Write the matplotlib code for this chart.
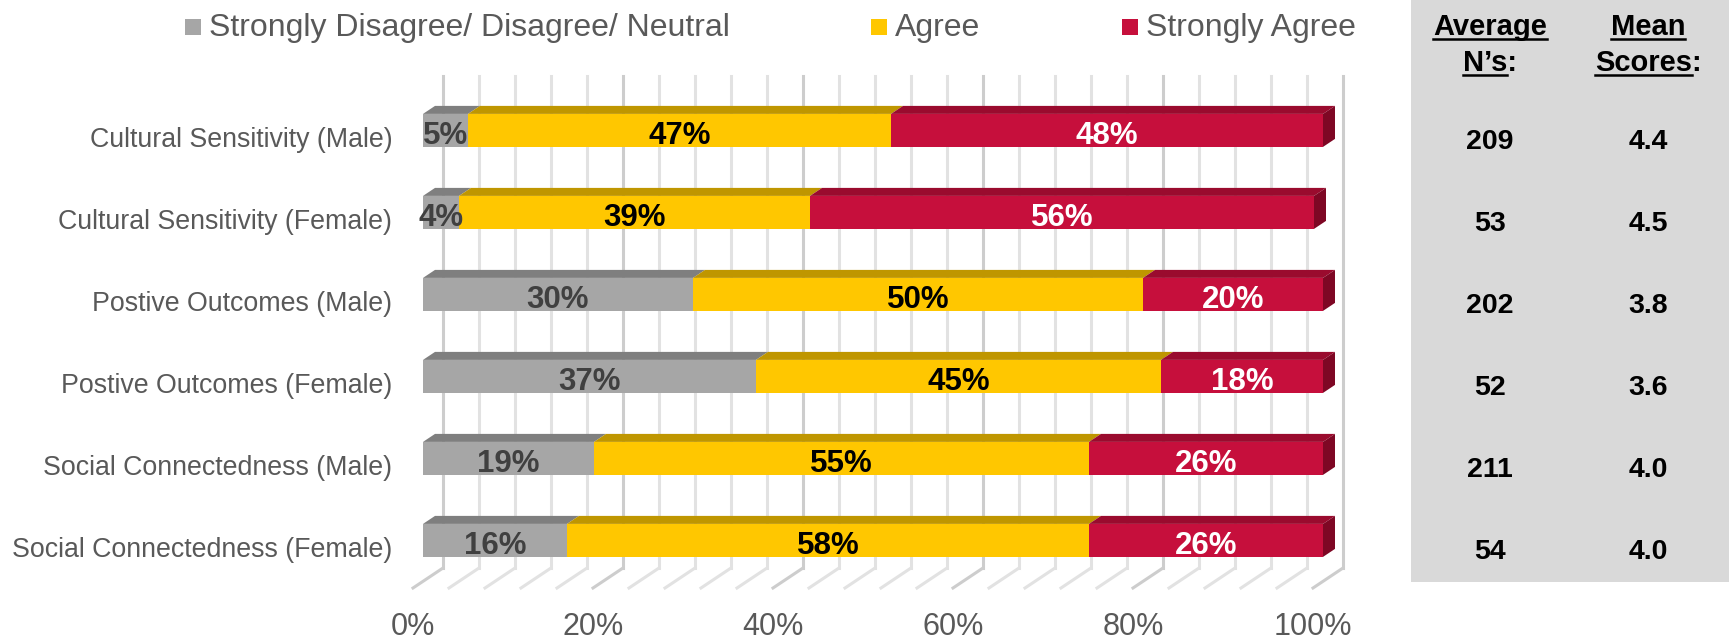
import matplotlib
matplotlib.use("Agg")
import matplotlib.pyplot as plt
import matplotlib.transforms as mtransforms
from matplotlib.patches import Polygon, Rectangle
from matplotlib.lines import Line2D

# ---- data -------------------------------------------------------------
categories = [
    "Cultural Sensitivity (Male)",
    "Cultural Sensitivity (Female)",
    "Postive Outcomes (Male)",
    "Postive Outcomes (Female)",
    "Social Connectedness (Male)",
    "Social Connectedness (Female)",
]
series_names = ["Strongly Disagree/ Disagree/ Neutral", "Agree", "Strongly Agree"]
disagree_neutral = [5, 4, 30, 37, 19, 16]
agree = [47, 39, 50, 45, 55, 58]
strongly_agree = [48, 56, 20, 18, 26, 26]
average_n = [209, 53, 202, 52, 211, 54]
mean_scores = [4.4, 4.5, 3.8, 3.6, 4.0, 4.0]
x_ticks = [0, 20, 40, 60, 80, 100]
x_tick_labels = ["0%", "20%", "40%", "60%", "80%", "100%"]

# ---- styling ----------------------------------------------------------
plt.rcParams["font.family"] = ["Liberation Sans", "DejaVu Sans"]
front_colors = ["#A6A6A6", "#FFC700", "#C60F3C"]
top_colors = ["#7F7F7F", "#BF9600", "#9A0B2E"]
side_color = "#7E0724"
label_colors = ["#404040", "#000000", "#FFFFFF"]
text_grey = "#595959"

W, H = 1729, 641
fig = plt.figure(figsize=(W / 100, H / 100), dpi=100)
ax = fig.add_axes([413 / W, 53 / H, 900 / W, 492 / H])
n_rows = len(categories)
ax.set_xlim(0, 100)
ax.set_ylim(0, n_rows)
for s in ax.spines.values():
    s.set_visible(False)

# pixel -> data scale for the pseudo-3D depth offsets
px_x = 900 / 100.0
px_y = 492 / n_rows


def depth(dx_px, dy_px):
    return dx_px / px_x, dy_px / px_y


wall_dx, wall_dy = depth(30, 20)      # floor front edge -> back wall
bar_fx, bar_fy = depth(10, 6.6)       # floor front edge -> bar front face
bar_dx, bar_dy = depth(12, 8)         # bar thickness

# ---- back wall and floor gridlines ------------------------------------
for v in range(0, 101, 4):
    major = v % 20 == 0
    col = "#CDCDCD" if major else "#E2E2E2"
    ax.add_line(Line2D([v + wall_dx, v + wall_dx], [wall_dy, n_rows + wall_dy],
                       color=col, lw=2.2, zorder=1, clip_on=False))
    ax.add_line(Line2D([v, v + wall_dx], [0, wall_dy],
                       color=col, lw=2.2, zorder=1, clip_on=False))

# ---- stacked 3D bars --------------------------------------------------
series = [disagree_neutral, agree, strongly_agree]
bar_h = 33 / px_y
label_drop = 2.5 / px_y
for i in range(n_rows):
    yc = n_rows - 0.5 - i
    left = 0.0
    for k, vals in enumerate(series):
        v = vals[i]
        right = left + v
        x0, x1 = left + bar_fx, right + bar_fx
        y0, y1 = yc - bar_h / 2 + bar_fy, yc + bar_h / 2 + bar_fy
        ax.add_patch(Rectangle((x0, y0), v, bar_h, facecolor=front_colors[k],
                               edgecolor="none", zorder=3, clip_on=False))
        ax.add_patch(Polygon([(x0, y1), (x1, y1), (x1 + bar_dx, y1 + bar_dy),
                              (x0 + bar_dx, y1 + bar_dy)], closed=True,
                             facecolor=top_colors[k], edgecolor="none",
                             zorder=3, clip_on=False))
        if k == len(series) - 1:
            ax.add_patch(Polygon([(x1, y0), (x1 + bar_dx, y0 + bar_dy),
                                  (x1 + bar_dx, y1 + bar_dy), (x1, y1)],
                                 closed=True, facecolor=side_color,
                                 edgecolor="none", zorder=3, clip_on=False))
        ax.text((x0 + x1) / 2, yc + bar_fy - label_drop, f"{v}%", ha="center",
                va="center_baseline", fontsize=22.5, fontweight="bold",
                color=label_colors[k], zorder=5, clip_on=False)
        left = right

# ---- axes labels ------------------------------------------------------
ax.set_yticks([n_rows - 0.5 - i for i in range(n_rows)])
ax.set_yticklabels(categories, fontsize=19.3, color=text_grey)
ax.tick_params(axis="y", length=0, pad=15)
ax.set_xticks(x_ticks)
ax.set_xticklabels(x_tick_labels, fontsize=22, color=text_grey)
ax.tick_params(axis="x", length=0, pad=17)

# ---- legend -----------------------------------------------------------
legend_x = [185, 871, 1122]
for name, col, lx in zip(series_names, front_colors, legend_x):
    fig.add_artist(Rectangle((lx / W, 1 - 35 / H), 16 / W, 16 / H,
                             transform=fig.transFigure, facecolor=col,
                             edgecolor="none"))
    fig.text((lx + 24) / W, 1 - 36 / H, name, fontsize=23, color=text_grey,
             ha="left", va="baseline")

# ---- side panel with counts and means ----------------------------------
fig.add_artist(Rectangle((1411 / W, 1 - 582 / H), (W - 1411) / W, 582 / H,
                         transform=fig.transFigure, facecolor="#D9D9D9",
                         edgecolor="none", zorder=0))

col_x = [1490, 1648]
headers = [("Average", "N\u2019s", ":"), ("Mean", "Scores", ":")]
fig.canvas.draw()
renderer = fig.canvas.get_renderer()
for cx, (line1, line2, tail) in zip(col_x, headers):
    t1 = fig.text(cx / W, 1 - 35 / H, line1, fontsize=21, fontweight="bold",
                  ha="center", va="baseline")
    t2 = fig.text(cx / W, 1 - 71 / H, line2 + tail, fontsize=21,
                  fontweight="bold", ha="center", va="baseline")
    probe = fig.text(0, 0, line2, fontsize=21, fontweight="bold")
    b1 = t1.get_window_extent(renderer)
    b2 = t2.get_window_extent(renderer)
    w_part = probe.get_window_extent(renderer).width
    probe.remove()
    for x0, x1, yb in [(b1.x0, b1.x1, 35), (b2.x0, b2.x0 + w_part, 71)]:
        yy = (H - yb - 4) / H
        fig.add_artist(Line2D([x0 / W, x1 / W], [yy, yy], color="black",
                              lw=1.8, transform=fig.transFigure))

blend = mtransforms.blended_transform_factory(fig.transFigure, ax.transData)
value_drop = 2 / px_y
for i in range(n_rows):
    yc = n_rows - 0.5 - i - value_drop
    fig.text(col_x[0] / W, yc, f"{average_n[i]}", transform=blend,
             fontsize=20.5, fontweight="bold", ha="center",
             va="center_baseline")
    fig.text(col_x[1] / W, yc, f"{mean_scores[i]:.1f}", transform=blend,
             fontsize=20.5, fontweight="bold", ha="center",
             va="center_baseline")

fig.savefig("out.png", dpi=100, facecolor="white")
